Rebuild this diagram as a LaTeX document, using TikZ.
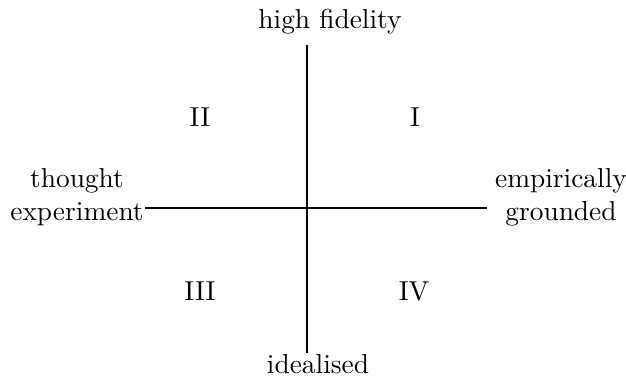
\documentclass[tikz,border=0pt]{standalone}
\begin{document}
\begin{tikzpicture}[x=0.365pt,y=-0.365pt,line width=0.45pt]
            \useasboundingbox (0,0) rectangle (626,376);
            \coordinate (o) at (307,208);
            \coordinate (axn) at (307,45);
            \coordinate (axs) at (307,353);
            \coordinate (axw) at (145,208);
            \coordinate (axe) at (487,208);
            \node[align=center] (fid) at (330,21.5) {high fidelity};
            \node[align=center] (ideal) at (318,364.5) {idealised};
            \node[align=center] (thought) at (77,197) {thought\\experiment};
            \node[align=center] (emp) at (561,197) {empirically\\grounded};
            \node (q1) at (415,117) {I};
            \node (q2) at (200,117) {II};
            \node (q3) at (200,291) {III};
            \node (q4) at (414,291) {IV};
            \draw (axn) -- (axs);
            \draw (axw) -- (axe);
        \end{tikzpicture}
\end{document}
